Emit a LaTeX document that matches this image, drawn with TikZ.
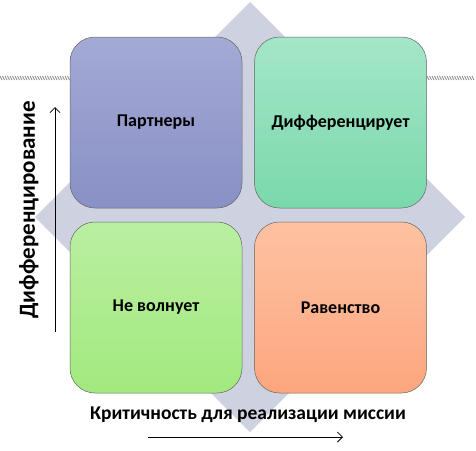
\documentclass[tikz,border=0pt]{standalone}
\usepackage{fontspec}
\setmainfont{Carlito}
\usetikzlibrary{arrows.meta}
\definecolor{diam}{HTML}{CED2E0}
\definecolor{tlTop}{HTML}{A4AAD5}
\definecolor{tlBot}{HTML}{8890C5}
\definecolor{trTop}{HTML}{A4E6C7}
\definecolor{trBot}{HTML}{7AD8AC}
\definecolor{blTop}{HTML}{BAEFA2}
\definecolor{blBot}{HTML}{A2E97E}
\definecolor{brTop}{HTML}{FDC2A2}
\definecolor{brBot}{HTML}{FCA67E}
\definecolor{hatch}{HTML}{8A8A8A}
\tikzset{
  quad/.style={draw=gray!80!black, line width=0.5pt, rounded corners=25pt,
    minimum width=172pt, minimum height=171pt, inner sep=0pt,
    font=\bfseries\fontsize{18}{21}\selectfont},
  axislabel/.style={font=\bfseries\fontsize{19.5}{23}\selectfont, inner sep=0pt},
  vlabel/.style={font=\bfseries\fontsize{23}{27}\selectfont, inner sep=0pt},
  axisarrow/.style={line width=0.7pt, -{Straight Barb[length=5pt,width=10pt,line width=0.8pt]}}
}
\begin{document}
\begin{tikzpicture}[x=1pt,y=-1pt]
\useasboundingbox (0,0) rectangle (476,450);
% hatched line
\foreach \x in {0,2.5,...,68} \draw[hatch, line width=0.7pt] (\x,76) -- (\x+2,80);
\foreach \x in {427,429.5,...,474} \draw[hatch, line width=0.7pt] (\x,76) -- (\x+2,80);
% diamond
\fill[diam] (250,2) -- (465,217) -- (250,432) -- (35,217) -- cycle;
% quadrants
\node[quad, top color=tlTop, bottom color=tlBot] (tl) at (156,122.5) {Партнеры};
\node[quad, top color=trTop, bottom color=trBot] (tr) at (340.5,122.5) {Дифференцирует};
\node[quad, top color=blTop, bottom color=blBot] (bl) at (156,307.5) {Не волнует};
\node[quad, top color=brTop, bottom color=brBot] (br) at (340.5,307.5) {Равенство};
% axes
\node[axislabel] (xl) at (248,415) {Критичность для реализации миссии};
\node[vlabel, rotate=90] (yl) at (29,210) {Дифференцирование};
\coordinate (xa) at (148,437);
\coordinate (xb) at (343,437);
\coordinate (ya) at (55,332);
\coordinate (yb) at (55,107);
\draw[axisarrow] (xa) -- (xb);
\draw[axisarrow] (ya) -- (yb);
\end{tikzpicture}
\end{document}
